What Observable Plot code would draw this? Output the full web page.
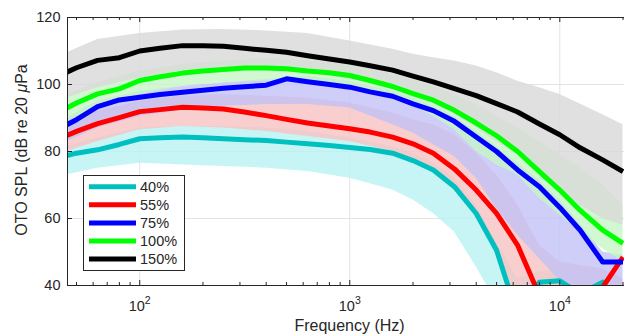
<!DOCTYPE html>
<html><head><meta charset="utf-8">
<script src="https://cdn.jsdelivr.net/npm/d3@7"></script>
<script src="https://cdn.jsdelivr.net/npm/@observablehq/plot@0.6"></script>
<style>
html,body{margin:0;padding:0;background:#fff;overflow:hidden;}
#chart{position:relative;width:624px;height:336px;overflow:hidden;}
</style></head><body><div id="chart"></div>
<script>
// ---- data ----
const freqs = [45,50,63,80,100,125,160,200,250,315,400,500,630,800,1000,1250,1600,2000,2500,3150,4000,5000,6300,8000,10000,12500,16000,20000];
const seriesNames = ["40%","55%","75%","100%","150%"];
const spl40  = [78.8,79.5,80.5,82.1,83.8,84.1,84.3,84.1,83.8,83.5,83.3,82.8,82.3,81.8,81.2,80.6,79.5,77.3,74.5,69.5,61.5,50.5,31.0,41.0,41.4,37.5,41.0,30.0];
const spl55  = [84.8,86.0,88.3,90.1,91.9,92.5,93.2,93.0,92.7,91.8,90.7,89.6,88.5,87.6,86.8,85.8,84.3,82.3,79.5,74.8,68.5,61.5,52.0,37.0,30.0,28.0,39.5,48.5];
const spl75  = [88.0,89.5,93.4,95.4,96.2,97.0,97.7,98.3,98.9,99.3,99.8,101.7,100.8,100.0,99.2,97.8,96.5,94.2,92.2,89.0,84.3,80.0,74.5,69.5,63.3,56.5,47.0,47.0];
const spl100 = [93.0,94.5,97.2,98.7,101.2,102.3,103.4,104.0,104.5,104.9,104.9,104.7,104.0,103.5,102.7,101.2,99.4,97.3,95.3,92.3,88.5,84.7,80.0,74.0,68.5,62.4,56.5,52.6];
const spl150 = [103.7,105.0,107.2,108.0,110.0,110.8,111.6,111.6,111.4,110.8,110.2,109.6,108.6,107.6,106.7,105.6,104.3,102.5,100.8,98.8,96.7,94.3,91.8,88.2,85.0,81.1,77.5,74.0];

// spread of the individual (thin) curves, lower / upper envelope
const bandFreqs = [45,63,100,160,250,400,630,1000,1600,2000,2500,3150,4000,5000,6300,8000,10000,12500,16000,20000];
const band150Lo = [96,99,102,104,105,104.5,103.5,101.5,99,97,94.5,91,87,83,79,73,68,64,60,58];
const band150Hi = [109.5,113.4,115.2,116.3,116.4,116,115.2,113,110.5,109,108,107,105.5,103.5,101,99,97,94.2,91,88];
const band100Lo = [89,93,97,99.5,100.5,101,100.5,99,95.5,93.5,90.5,86.5,80,76,73,66,61,56,51,47];
const band100Hi = [97,100.5,104,106,107,107.5,107,106,103,101.5,99.5,97,94,90.5,87,83,79,75,70,64];
const band75Lo  = [83,87,90.5,92.5,93.5,94,94,93,88,85.5,82,78.5,72,63,55,48,41.5,35,35,35];
const band75Hi  = [90,95,98,99.5,100.5,101.5,102.5,101,98,96,93.5,90.5,86,81.5,76.5,71.5,65.5,58.5,50,49];
const band55Lo  = [80,83,86.5,87.5,87,86,84.5,83,80,78,75,70,62,51.5,35,35,35,35,35,35];
const band55Hi  = [89,92,95,96.5,97,96.5,96,94.5,91.5,89.5,88,85,79.5,73,64,52,47,46,45,42];
const band40Lo  = [73,75,76.5,76,75.5,75,74,72,68.5,65.5,61.5,56,45.5,35,35,35,35,35,35,35];
const band40Hi  = [81.5,84,87,87.5,87.5,87,86,84,81.5,79.5,76.5,72,64,53,42,44,45,44,43,38];

const xMajorTicks = [100,1000,10000];
const xMinorTicks = [50,60,70,80,90,200,300,400,500,600,700,800,900,2000,3000,4000,5000,6000,7000,8000,9000,20000];
const yTicks = [40,60,80,100,120];

// ---- styles ----
const lineColors = ["#00bfbf","#ff0000","#0000ff","#00ff00","#000000"];
const bandColors = ["#b9f3f3","#f8c2c2","#c2c2f6","#c6f6c6","#d8d8d8"];
const ink = "#262626";

const values = [spl40, spl55, spl75, spl100, spl150];
const bandsLo = [band40Lo, band55Lo, band75Lo, band100Lo, band150Lo];
const bandsHi = [band40Hi, band55Hi, band75Hi, band100Hi, band150Hi];

const lineData = values.map(v => freqs.map((f, i) => ({f, v: v[i]})));
const bandData = bandsLo.map((lo, s) => bandFreqs.map((f, i) => ({f, lo: lo[i], hi: bandsHi[s][i]})));

const W = 624, H = 336, mL = 67, mR = -8, mT = 17, mB = 51;
const frameH = H - mT - mB;

const marks = [
  Plot.gridX(xMajorTicks, {stroke: "#e3e3e3", strokeOpacity: 1}),
  Plot.gridY([60,80,100], {stroke: "#e3e3e3", strokeOpacity: 1}),
];
[0,1,2,3,4].forEach(s => {
  marks.push(Plot.areaY(bandData[s], {x: "f", y1: "lo", y2: "hi", fill: bandColors[s], fillOpacity: 0.8, curve: "linear", clip: true}));
});
[0,1,2,3,4].forEach(s => {
  marks.push(Plot.line(lineData[s], {x: "f", y: "v", stroke: lineColors[s], strokeWidth: 5, strokeLinecap: "butt", strokeLinejoin: "round", clip: true}));
});
marks.push(
  Plot.frame({stroke: ink, strokeWidth: 1}),
  Plot.tickX(xMajorTicks, {x: d => d, stroke: ink, insetTop: frameH - 5}),
  Plot.tickX(xMinorTicks, {x: d => d, stroke: ink, insetTop: frameH - 3}),
  Plot.tickX(xMajorTicks, {x: d => d, stroke: ink, insetBottom: frameH - 5}),
  Plot.tickX(xMinorTicks, {x: d => d, stroke: ink, insetBottom: frameH - 3}),
  Plot.tickY(yTicks, {y: d => d, stroke: ink, insetRight: (W - mL - mR) - 5}),
  Plot.axisY({ticks: yTicks, tickSize: 0, tickPadding: 7, label: null, fontSize: 14.5}),
  Plot.axisX({ticks: xMajorTicks, tickSize: 0, tickPadding: 15, label: null, fontSize: 14.5, tickFormat: () => "10"})
);

const svg = Plot.plot({
  width: W, height: H,
  marginLeft: mL, marginRight: mR, marginTop: mT, marginBottom: mB,
  style: {fontFamily: "'Liberation Sans', Arial, sans-serif", fontSize: "14.5px", color: ink, background: "#fff", overflow: "hidden"},
  x: {type: "log", domain: [45.3, 22190]},
  y: {domain: [40, 120]},
  marks
});
document.getElementById("chart").appendChild(svg);

const s = d3.select(svg);
s.selectAll('g[aria-label="x-axis tick label"] text').each(function(_, k) {
  d3.select(this).append("tspan").attr("dy", "-7").attr("font-size", "10.5px")
    .text(String(Math.round(Math.log10(xMajorTicks[k]))));
});
s.append("text").attr("x", 349.5).attr("y", 331).attr("text-anchor", "middle")
  .attr("fill", ink).attr("font-size", "16px").text("Frequency (Hz)");
const yl = s.append("text").attr("transform", "translate(27,150) rotate(-90)").attr("text-anchor", "middle")
  .attr("fill", ink).attr("font-size", "16px");
yl.append("tspan").text("OTO SPL (dB re 20 ");
yl.append("tspan").attr("font-style", "italic").text("μ");
yl.append("tspan").text("Pa");
const lg = s.append("g").attr("text-anchor", "start");
lg.append("rect").attr("x", 83.5).attr("y", 175.5).attr("width", 101).attr("height", 95)
  .attr("fill", "#fff").attr("stroke", ink);
seriesNames.forEach((name, i) => {
  const y = 186.7 + i * 18.1;
  lg.append("line").attr("x1", 89).attr("x2", 136).attr("y1", y).attr("y2", y)
    .attr("stroke", lineColors[i]).attr("stroke-width", 5);
  lg.append("text").attr("x", 140).attr("y", y + 5.2).attr("text-anchor", "start")
    .attr("fill", ink).attr("font-size", "14.5px").text(name);
});
</script></body></html>
